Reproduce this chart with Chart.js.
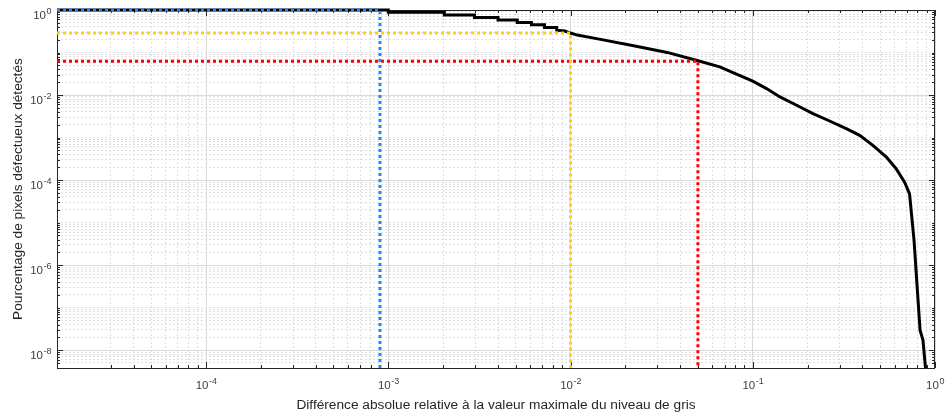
<!DOCTYPE html>
<html lang="fr">
<head>
<meta charset="UTF-8">
<title>Pixels défectueux détectés</title>
<script src="https://cdn.jsdelivr.net/npm/chart.js@4.4.0/dist/chart.umd.min.js"></script>
<style>
  body { margin: 0; background: #fff; }
</style>
</head>
<body>
<canvas id="myChart" width="945" height="416"></canvas>
<script>
// courbe (différence relative, pourcentage de pixels détectés)
var courbeX = [1.52e-5, 1.0e-3, 1.0e-3, 2.03e-3, 2.03e-3, 2.97e-3, 2.97e-3, 4.0e-3, 4.0e-3,
  5.1e-3, 5.1e-3, 6.1e-3, 6.1e-3, 7.2e-3, 7.2e-3, 8.4e-3, 8.4e-3, 9.3e-3, 1.0e-2,
  1.088e-2, 1.46e-2, 2.22e-2, 3.39e-2, 4.95e-2, 6.59e-2, 8.14e-2, 0.1, 0.119, 0.141,
  0.174, 0.214, 0.264, 0.326, 0.386, 0.456, 0.541, 0.612, 0.681, 0.725, 0.767,
  0.828, 0.859, 0.887, 0.895];
var courbeY = [1, 1, 0.88, 0.88, 0.76, 0.76, 0.67, 0.67, 0.58,
  0.58, 0.51, 0.51, 0.45, 0.45, 0.39, 0.39, 0.335, 0.32, 0.287,
  0.257, 0.204, 0.144, 0.1005, 0.065, 0.046, 0.031, 0.0212, 0.0142, 0.00902,
  0.00575, 0.00366, 0.00245, 0.00162, 0.00113, 6.55e-4, 3.47e-4, 1.85e-4, 8.9e-5, 4.75e-5, 3.9e-6,
  2.95e-8, 1.73e-8, 3.8e-9, 1e-9];

// seuils : bleu, jaune, rouge
var seuilX = [9.0e-4, 1e-2, 5e-2];
var seuilY = [1, 0.287, 0.0627];
var seuilCouleurs = ['#1a8cff', '#ffd200', '#ff0000'];

// limites des axes et exposants affichés
var xMin = 1.52e-5, xMax = 1;
var yMin = 3.8e-9, yMax = 1;
var xExposants = [-4, -3, -2, -1, 0];
var yExposants = [0, -2, -4, -6, -8];

var police = '"Liberation Sans", Arial, sans-serif';

function estPuissance(v) {
  var l = Math.log10(v);
  return Math.abs(l - Math.round(l)) < 1e-6;
}
function estEntier(v) {
  var m = v / Math.pow(10, Math.floor(Math.log10(v) + 1e-9));
  return Math.abs(m - Math.round(m)) < 1e-6;
}
function estMajeur(v, axe) {
  if (!estPuissance(v)) return false;
  var e = Math.round(Math.log10(v));
  return (axe === 'x' ? xExposants : yExposants).indexOf(e) >= 0;
}

var clipHaut = {left: 0, top: 2, right: 0, bottom: 0};
var datasets = [{
  data: courbeX.map(function(x, i) { return {x: x, y: courbeY[i]}; }),
  borderColor: '#000',
  borderWidth: 3,
  clip: clipHaut,
  order: 2
}];
seuilX.forEach(function(sx, i) {
  datasets.push({
    data: [{x: xMin, y: seuilY[i]}, {x: sx, y: seuilY[i]}, {x: sx, y: yMin}],
    borderColor: seuilCouleurs[i],
    borderWidth: 3,
    borderDash: [3, 3],
    borderCapStyle: 'butt',
    clip: clipHaut,
    order: 1
  });
});

function grille(axe) {
  return {
    color: function(c) { return c.tick && estMajeur(c.tick.value, axe) ? '#d9d9d9' : '#e0e0e0'; },
    lineWidth: 1,
    drawTicks: false
  };
}
function bordure(axe) {
  return {
    display: false,
    dash: function(c) { return c.tick && !estMajeur(c.tick.value, axe) ? [2, 2] : []; }
  };
}
function filtreTicks(s) {
  s.ticks = s.ticks.filter(function(t) { return estEntier(t.value); });
}

// axes façon MATLAB : boîte, graduations intérieures, étiquettes 10^n
function etiquette(ctx, e, x, y, alignDroite) {
  var base = '10', exp = String(e);
  ctx.font = '11.5px ' + police;
  var wb = ctx.measureText(base).width;
  ctx.font = '9px ' + police;
  var we = ctx.measureText(exp).width;
  var x0 = alignDroite ? x - wb - we : x - (wb + we) / 2;
  ctx.font = '11.5px ' + police;
  ctx.fillText(base, x0, y);
  ctx.font = '9px ' + police;
  ctx.fillText(exp, x0 + wb + 0.5, y - 5);
}

var axesMatlab = {
  id: 'axesMatlab',
  beforeDatasetsDraw: function(chart) {
    var ctx = chart.ctx, a = chart.chartArea;
    var sx = chart.scales.x, sy = chart.scales.y;
    ctx.save();
    ctx.strokeStyle = '#262626';
    ctx.lineWidth = 1;
    ctx.beginPath();
    sx.ticks.forEach(function(t) {
      var px = Math.round(sx.getPixelForValue(t.value)) + 0.5;
      var len = estMajeur(t.value, 'x') ? 6 : 3;
      ctx.moveTo(px, a.bottom); ctx.lineTo(px, a.bottom - len);
      ctx.moveTo(px, a.top); ctx.lineTo(px, a.top + len);
    });
    sy.ticks.forEach(function(t) {
      var py = Math.round(sy.getPixelForValue(t.value)) + 0.5;
      var len = estMajeur(t.value, 'y') ? 6 : 3;
      ctx.moveTo(a.left, py); ctx.lineTo(a.left + len, py);
      ctx.moveTo(a.right, py); ctx.lineTo(a.right - len, py);
    });
    ctx.stroke();
    ctx.strokeRect(Math.round(a.left) + 0.5, Math.round(a.top) + 0.5,
      Math.round(a.right - a.left) - 1, Math.round(a.bottom - a.top));
    ctx.restore();
  },
  afterDraw: function(chart) {
    var ctx = chart.ctx, a = chart.chartArea;
    var sx = chart.scales.x, sy = chart.scales.y;
    ctx.save();
    ctx.fillStyle = '#404040';
    ctx.textBaseline = 'alphabetic';
    ctx.textAlign = 'left';
    xExposants.forEach(function(e) {
      etiquette(ctx, e, sx.getPixelForValue(Math.pow(10, e)), a.bottom + 21, false);
    });
    yExposants.forEach(function(e) {
      etiquette(ctx, e, a.left - 6, sy.getPixelForValue(Math.pow(10, e)) + 9, true);
    });
    ctx.restore();
  }
};

var ctx = document.getElementById('myChart').getContext('2d');
var myChart = new Chart(ctx, {
  type: 'scatter',
  data: { datasets: datasets },
  options: {
    responsive: false,
    animation: false,
    datasets: { scatter: { showLine: true, pointRadius: 0, tension: 0 } },
    layout: { padding: { top: 10, right: 10, left: 0, bottom: 0 } },
    plugins: { legend: { display: false }, tooltip: { enabled: false } },
    scales: {
      x: {
        type: 'logarithmic',
        min: xMin, max: xMax,
        grid: grille('x'),
        border: bordure('x'),
        ticks: { display: false },
        afterBuildTicks: filtreTicks,
        afterFit: function(s) { s.height = 48; },
        title: {
          display: true,
          text: 'Différence absolue relative à la valeur maximale du niveau de gris',
          color: '#262626',
          font: { family: police, size: 13.7 },
          padding: { top: 0, bottom: 3 }
        }
      },
      y: {
        type: 'logarithmic',
        min: yMin, max: yMax,
        grid: grille('y'),
        border: bordure('y'),
        ticks: { display: false },
        afterBuildTicks: filtreTicks,
        afterFit: function(s) { s.width = 57; },
        title: {
          display: true,
          text: 'Pourcentage de pixels défectueux détectés',
          color: '#262626',
          font: { family: police, size: 13.7 },
          padding: { top: 10, bottom: 0 }
        }
      }
    }
  },
  plugins: [axesMatlab]
});
</script>
</body>
</html>
